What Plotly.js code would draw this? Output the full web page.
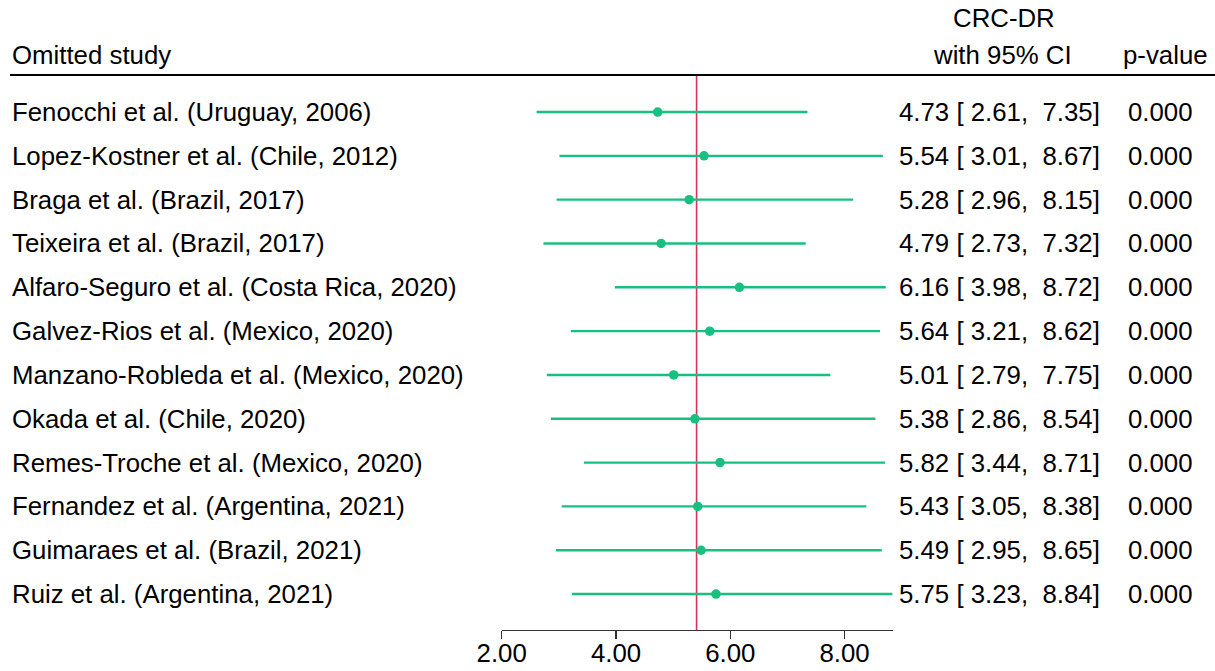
<!DOCTYPE html>
<html>
<head>
<meta charset="utf-8">
<script src="https://cdn.plot.ly/plotly-3.0.1.min.js"></script>
<style>
  html, body { margin: 0; padding: 0; background: #ffffff; }
  #chart { width: 1215px; height: 671px; }
</style>
</head>
<body>
<div id="chart"></div>
<script>
// Leave-one-out sensitivity analysis: pooled CRC detection rate with each study omitted
const studies = [
  "Fenocchi et al. (Uruguay, 2006)",
  "Lopez-Kostner et al. (Chile, 2012)",
  "Braga et al. (Brazil, 2017)",
  "Teixeira et al. (Brazil, 2017)",
  "Alfaro-Seguro et al. (Costa Rica, 2020)",
  "Galvez-Rios et al. (Mexico, 2020)",
  "Manzano-Robleda et al. (Mexico, 2020)",
  "Okada et al. (Chile, 2020)",
  "Remes-Troche et al. (Mexico, 2020)",
  "Fernandez et al. (Argentina, 2021)",
  "Guimaraes et al. (Brazil, 2021)",
  "Ruiz et al. (Argentina, 2021)"
];
const estimate = [4.73, 5.54, 5.28, 4.79, 6.16, 5.64, 5.01, 5.38, 5.82, 5.43, 5.49, 5.75];
const lower    = [2.61, 3.01, 2.96, 2.73, 3.98, 3.21, 2.79, 2.86, 3.44, 3.05, 2.95, 3.23];
const upper    = [7.35, 8.67, 8.15, 7.32, 8.72, 8.62, 7.75, 8.54, 8.71, 8.38, 8.65, 8.84];
const pValues  = [0, 0, 0, 0, 0, 0, 0, 0, 0, 0, 0, 0];
const overall  = 5.41;
const tickVals = [2, 4, 6, 8];
const tickText = ["2.00", "4.00", "6.00", "8.00"];

const FONT = "Liberation Sans, Arial, Helvetica, sans-serif";
const FS = 25.8;
const GREEN = "#17c07f";
const RED = "#d8325c";
const NB = "\u00a0";

const rowPos = studies.map((_, i) => i + 1);

function fmtCI(e, l, u) {
  return e.toFixed(2) + " [" + NB + l.toFixed(2) + "," + NB + NB + u.toFixed(2) + "]";
}

const trace = {
  type: "scatter",
  mode: "markers",
  x: estimate,
  y: rowPos,
  marker: { color: GREEN, size: 9.5 },
  error_x: {
    type: "data",
    symmetric: false,
    array: estimate.map((e, i) => upper[i] - e),
    arrayminus: estimate.map((e, i) => e - lower[i]),
    color: GREEN,
    thickness: 2.4,
    width: 0
  },
  hoverinfo: "skip",
  showlegend: false,
  cliponaxis: false
};

const textFont = { family: FONT, size: FS, color: "#000" };
const annotations = [];
studies.forEach((s, i) => {
  annotations.push({
    xref: "paper", yref: "y", x: 10 / 1215, y: rowPos[i],
    xanchor: "left", yanchor: "middle", showarrow: false,
    text: s, font: textFont
  });
  annotations.push({
    xref: "paper", yref: "y", x: 1102 / 1215, y: rowPos[i],
    xanchor: "right", yanchor: "middle", showarrow: false,
    text: fmtCI(estimate[i], lower[i], upper[i]), font: textFont
  });
  annotations.push({
    xref: "paper", yref: "y", x: 1195 / 1215, y: rowPos[i],
    xanchor: "right", yanchor: "middle", showarrow: false,
    text: pValues[i].toFixed(3), font: textFont
  });
});

// Column headers
annotations.push({ xref: "paper", yref: "paper", x: 10 / 1215, y: 1 - 55 / 671, xanchor: "left", yanchor: "middle", showarrow: false, text: "Omitted study", font: textFont });
annotations.push({ xref: "paper", yref: "paper", x: 1004 / 1215, y: 1 - 18 / 671, xanchor: "center", yanchor: "middle", showarrow: false, text: "CRC-DR", font: textFont });
annotations.push({ xref: "paper", yref: "paper", x: 1002 / 1215, y: 1 - 55 / 671, xanchor: "center", yanchor: "middle", showarrow: false, text: "with 95% CI", font: textFont });
annotations.push({ xref: "paper", yref: "paper", x: 1165 / 1215, y: 1 - 55 / 671, xanchor: "center", yanchor: "middle", showarrow: false, text: "p-value", font: textFont });

const layout = {
  width: 1215,
  height: 671,
  margin: { l: 0, r: 0, t: 0, b: 0 },
  paper_bgcolor: "#ffffff",
  plot_bgcolor: "#ffffff",
  font: textFont,
  xaxis: {
    domain: [501.7 / 1215, 892.6 / 1215],
    range: [2, 8.84],
    tickvals: tickVals,
    ticktext: tickText,
    ticks: "outside",
    ticklen: 8,
    tickwidth: 1.3,
    tickcolor: "#333",
    ticklabelstandoff: -8,
    showline: true,
    linecolor: "#333",
    linewidth: 1.3,
    showgrid: false,
    zeroline: false,
    tickfont: textFont,
    fixedrange: true
  },
  yaxis: {
    domain: [1 - 630 / 671, 1 - 75 / 671],
    range: [12.82, 0.155],
    showticklabels: false,
    showgrid: false,
    zeroline: false,
    showline: false,
    ticks: "",
    fixedrange: true
  },
  shapes: [
    // header rule
    { type: "line", xref: "paper", yref: "paper", x0: 10 / 1215, x1: 1, y0: 1 - 75 / 671, y1: 1 - 75 / 671, line: { color: "#000", width: 2 } },
    // overall estimate reference line
    { type: "line", xref: "x", yref: "y domain", x0: overall, x1: overall, y0: 0, y1: 1, line: { color: RED, width: 1.6 }, layer: "below" }
  ],
  annotations: annotations,
  showlegend: false
};

Plotly.newPlot("chart", [trace], layout, { displayModeBar: false, staticPlot: true });
</script>
</body>
</html>
